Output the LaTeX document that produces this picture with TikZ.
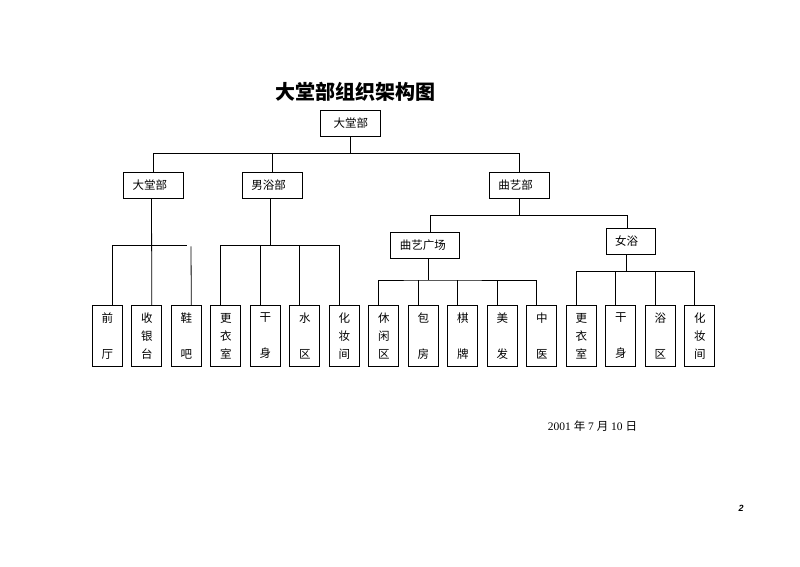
\documentclass[tikz,border=0pt]{standalone}
\usepackage{fontspec}
\setmainfont{Liberation Serif}
\newfontfamily\cjk{Noto Sans CJK SC}
\newfontfamily\pgfont{Liberation Sans}
\begin{document}
\begin{tikzpicture}[x=1pt,y=-1pt,line width=0.8pt,
	box/.style={draw,minimum height=26pt,inner xsep=9pt,text width=#1,align=left,font=\cjk\fontsize{11.5}{13}\selectfont},
	leaf/.style={draw,minimum width=30pt,minimum height=61pt,inner sep=0pt,align=center,font=\cjk\fontsize{11.5}{18}\selectfont}]
	\useasboundingbox (0,0) rectangle (800,567);
	\node[font=\cjk\bfseries\fontsize{20}{24}\selectfont] (title) at (355,92) {大堂部组织架构图};
	
	\node[box=42pt,align=center] (root) at (350.8,123.5) {大堂部};
	\node[box=42pt] (dt) at (153.5,185.3) {大堂部};
	\node[box=42pt] (nan) at (272.3,185.3) {男浴部};
	\node[box=42pt] (qu) at (519.3,185.3) {曲艺部};
	\node[box=51pt] (qg) at (425.3,245.3) {曲艺广场};
	\node[box=31pt] (nv) at (630.7,241.3) {女浴};
	
	\foreach \t [count=\i] in {前\\~\\厅,收\\银\\台,鞋\\~\\吧,更\\衣\\室,干\\~\\身,水\\~\\区,化\\妆\\间,
		休\\闲\\区,包\\~\\房,棋\\~\\牌,美\\~\\发,中\\~\\医,更\\衣\\室,干\\~\\身,浴\\~\\区,化\\妆\\间}
		\node[leaf] (b\i) at ({107.3+39.5*(\i-1)},336) {\t};
	
	\coordinate (r1) at (350.8,153.3);
	\draw (root) -- (r1);
	\draw (dt) |- (r1) -| (qu);
	\draw (nan) -- (nan |- r1);
	
	\coordinate (q1) at (519.3,215.3);
	\draw (qu) -- (q1);
	\draw ([xshift=5pt]qg.north) |- (q1) -| ([xshift=-3pt]nv.north);
	
	\coordinate (a1) at (187.3,245.3);
	\coordinate (a2) at (191,246.3);
	\draw ([xshift=-2pt]dt.south) -- ([xshift=5pt]b2.north);
	\draw ([xshift=5pt]b1.north) |- (a1);
	\draw (a2) -- ([xshift=5pt]b3.north);
	
	\coordinate (n1) at (270.7,245.3);
	\draw ([xshift=-1.6pt]nan.south) -- (n1);
	\draw ([xshift=-5pt]b4.north) |- (n1) -| ([xshift=-5pt]b7.north);
	\foreach \i in {5,6}
		\draw ([xshift=-5pt]b\i.north) -- ([xshift=-5pt]b\i.north |- n1);
	
	\coordinate (g1) at (428.3,280);
	\draw ([xshift=3pt]qg.south) -- (g1);
	\draw ([xshift=-5pt]b8.north) |- (g1) -| ([xshift=-5pt]b12.north);
	\foreach \i in {9,10,11}
		\draw ([xshift=-5pt]b\i.north) -- ([xshift=-5pt]b\i.north |- g1);
	
	\coordinate (v1) at (626,271.7);
	\draw ([xshift=-4.7pt]nv.south) -- (v1);
	\draw ([xshift=-5pt]b13.north) |- (v1) -| ([xshift=-5pt]b16.north);
	\foreach \i in {14,15}
		\draw ([xshift=-5pt]b\i.north) -- ([xshift=-5pt]b\i.north |- v1);
	
	\node[font=\fontsize{11.5}{13}\selectfont] (date) at (592.5,426) {2001 {\cjk 年} 7 {\cjk 月} 10 {\cjk 日}};
	\node[font=\pgfont\bfseries\itshape\fontsize{9}{10}\selectfont] (pg) at (741,508) {2};
\end{tikzpicture}
\end{document}
